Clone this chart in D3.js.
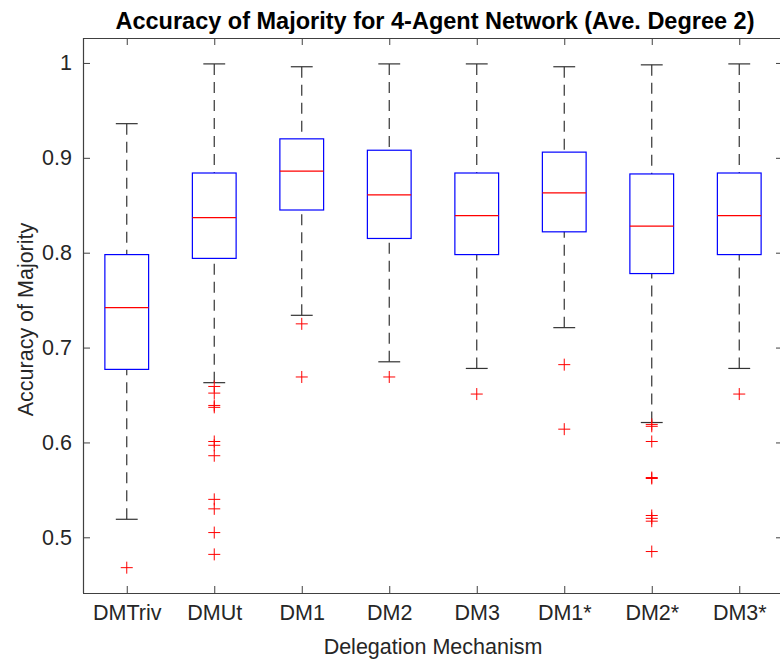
<!DOCTYPE html>
<html>
<head>
<meta charset="utf-8">
<script src="https://cdn.jsdelivr.net/npm/d3@7"></script>
<style>
  body { margin: 0; background: #fff; }
  svg { display: block; }
  text { font-family: "Liberation Sans", Arial, Helvetica, sans-serif; }
</style>
</head>
<body>
<svg id="chart" width="780" height="665"></svg>
<script>
// Box-plot summary per delegation mechanism
const categories = ["DMTriv", "DMUt", "DM1", "DM2", "DM3", "DM1*", "DM2*", "DM3*"];
const whiskerHigh = [0.936, 0.999, 0.996, 0.999, 0.999, 0.996, 0.998, 0.999];
const q3Values    = [0.798, 0.884, 0.920, 0.908, 0.884, 0.906, 0.883, 0.884];
const medians     = [0.742, 0.837, 0.886, 0.861, 0.839, 0.863, 0.828, 0.839];
const q1Values    = [0.677, 0.794, 0.845, 0.815, 0.798, 0.822, 0.778, 0.798];
const whiskerLow  = [0.519, 0.663, 0.734, 0.685, 0.678, 0.721, 0.621, 0.678];
const outliers = [
  [0.468],
  [0.659, 0.652, 0.639, 0.637, 0.601, 0.597, 0.586, 0.540, 0.530, 0.505, 0.482],
  [0.725, 0.669],
  [0.669],
  [0.651],
  [0.682, 0.614],
  [0.619, 0.617, 0.601, 0.563, 0.562, 0.523, 0.520, 0.517, 0.485],
  [0.651]
];
const yTicks = [0.5, 0.6, 0.7, 0.8, 0.9, 1];

const svg = d3.select("#chart");
const margin = { left: 83, right: 783, top: 38, bottom: 593 };

const x = d3.scaleLinear().domain([0.5, categories.length + 0.5]).range([margin.left, margin.right]);
const y = d3.scaleLinear().domain([0.4413, 1.0263]).range([margin.bottom, margin.top]);

const axisColor = "#404040";
const tickLen = 7;
const positions = categories.map((_, i) => i + 1);

// Axes with inward ticks (box style)
const gBottom = svg.append("g").attr("transform", `translate(0,${margin.bottom})`)
  .call(d3.axisBottom(x).tickValues(positions).tickSize(-tickLen).tickPadding(12)
    .tickFormat(d => categories[d - 1]));
const gTop = svg.append("g").attr("transform", `translate(0,${margin.top})`)
  .call(d3.axisTop(x).tickValues(positions).tickSize(-tickLen).tickFormat(""));
const gLeft = svg.append("g").attr("transform", `translate(${margin.left},0)`)
  .call(d3.axisLeft(y).tickValues(yTicks).tickSize(-tickLen).tickPadding(11)
    .tickFormat(d => d === 1 ? "1" : d3.format(".1f")(d)));
const gRight = svg.append("g").attr("transform", `translate(${margin.right},0)`)
  .call(d3.axisRight(y).tickValues(yTicks).tickSize(-tickLen).tickFormat(""));

[gBottom, gTop, gLeft, gRight].forEach(g => {
  g.select(".domain").attr("stroke", axisColor).attr("stroke-width", 1.2);
  g.selectAll(".tick line").attr("stroke", axisColor).attr("stroke-width", 1);
  g.selectAll(".tick text").attr("fill", "#262626").attr("font-size", 21.5);
});
gBottom.select(".domain").attr("d", `M${margin.left},0.5H${margin.right}`);
gTop.select(".domain").attr("d", `M${margin.left},0.5H${margin.right}`);
gLeft.select(".domain").attr("d", `M0.5,${margin.bottom}V${margin.top}`);
gRight.select(".domain").attr("d", `M0.5,${margin.bottom}V${margin.top}`);

// Boxes
const unit = x(2) - x(1);
const boxHalf = unit * 0.25;
const capHalf = unit * 0.125;
const boxes = svg.append("g");

categories.forEach((c, i) => {
  const cx = x(positions[i]);
  const g = boxes.append("g");
  // whiskers, dashed, running from the caps towards the box
  g.append("line").attr("x1", cx).attr("x2", cx)
    .attr("y1", y(whiskerHigh[i])).attr("y2", y(q3Values[i]))
    .attr("stroke", "#333").attr("stroke-width", 1.2).attr("stroke-dasharray", "11,7");
  g.append("line").attr("x1", cx).attr("x2", cx)
    .attr("y1", y(whiskerLow[i])).attr("y2", y(q1Values[i]))
    .attr("stroke", "#333").attr("stroke-width", 1.2).attr("stroke-dasharray", "11,7");
  // caps
  [whiskerHigh[i], whiskerLow[i]].forEach(v => {
    g.append("line").attr("x1", cx - capHalf).attr("x2", cx + capHalf)
      .attr("y1", y(v)).attr("y2", y(v))
      .attr("stroke", "#333").attr("stroke-width", 1.2);
  });
  // box
  g.append("rect")
    .attr("x", cx - boxHalf).attr("width", 2 * boxHalf)
    .attr("y", y(q3Values[i])).attr("height", y(q1Values[i]) - y(q3Values[i]))
    .attr("fill", "none").attr("stroke", "#0000ff").attr("stroke-width", 1.2);
  // median
  g.append("line").attr("x1", cx - boxHalf).attr("x2", cx + boxHalf)
    .attr("y1", y(medians[i])).attr("y2", y(medians[i]))
    .attr("stroke", "#ff0000").attr("stroke-width", 1.2);
  // outliers
  outliers[i].forEach(v => {
    const py = y(v);
    g.append("path")
      .attr("d", `M${cx - 6},${py}H${cx + 6}M${cx},${py - 6}V${py + 6}`)
      .attr("stroke", "#ff0000").attr("stroke-width", 1);
  });
});

// Title and axis labels
svg.append("text")
  .attr("x", 435).attr("y", 29)
  .attr("text-anchor", "middle").attr("font-size", 23.5).attr("font-weight", "bold")
  .attr("fill", "#000")
  .text("Accuracy of Majority for 4-Agent Network (Ave. Degree 2)");

svg.append("text")
  .attr("x", (margin.left + margin.right) / 2).attr("y", 654)
  .attr("text-anchor", "middle").attr("font-size", 21.5).attr("fill", "#262626")
  .text("Delegation Mechanism");

svg.append("text")
  .attr("transform", `translate(33,${(margin.top + margin.bottom) / 2 + 4}) rotate(-90)`)
  .attr("text-anchor", "middle").attr("font-size", 21.5).attr("fill", "#262626")
  .text("Accuracy of Majority");
</script>
</body>
</html>
